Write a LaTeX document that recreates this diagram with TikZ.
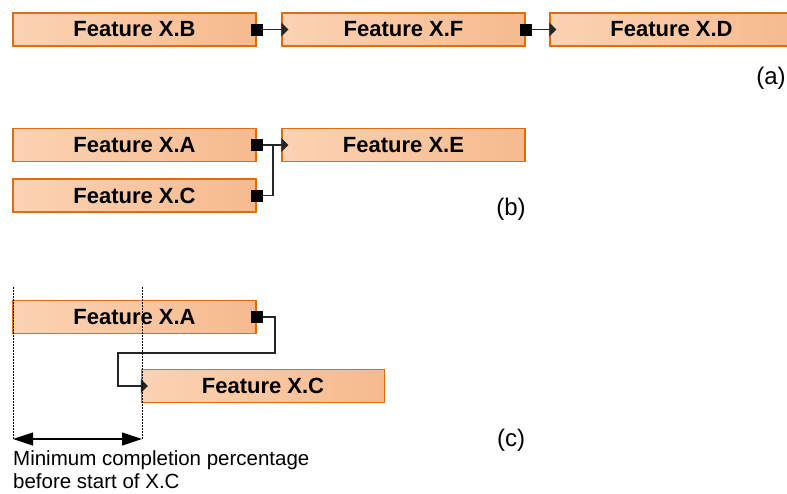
\documentclass[tikz,border=0pt]{standalone}
\usepackage{fontspec}
\setmainfont{Liberation Sans}
\usetikzlibrary{arrows.meta,calc}
\definecolor{boxborder}{HTML}{E36C0A}
\definecolor{boxlight}{HTML}{FBD3B3}
\definecolor{boxdark}{HTML}{F6BA8E}
\tikzset{
  featbox/.style={draw=boxborder, line width=1.4pt, left color=boxlight, right color=boxdark,
    minimum width=243pt, minimum height=33pt, inner sep=0pt,
    font=\fontsize{22}{26}\selectfont\bfseries},
  sqmark/.style={fill=black, minimum size=12pt, inner sep=0pt},
  conn/.style={draw=black!85, line width=1.3pt, arrows={-Triangle[length=7pt,width=14pt]}},
  plainconn/.style={draw=black!85, line width=1.3pt},
  guide/.style={draw=black, line width=1pt, dash pattern=on 1.5pt off 1.5pt},
  lbl/.style={font=\fontsize{24}{28}\selectfont},
  note/.style={font=\fontsize{20.5}{23}\selectfont, align=left, inner sep=0pt, anchor=north west}
}
\begin{document}
\begin{tikzpicture}[x=1pt,y=-1pt]
\useasboundingbox (0,0) rectangle (787,493);
% (a)
\node[featbox] (aB) at (134.5,29.5) {Feature X.B};
\node[featbox] (aF) at (403.5,29.5) {Feature X.F};
\node[featbox] (aD) at (671.5,29.5) {Feature X.D};
\node[sqmark] (sB) at (aB.east) {};
\node[sqmark] (sF) at (aF.east) {};
\draw[conn] (sB) -- ([xshift=7pt]aF.west);
\draw[conn] (sF) -- ([xshift=7pt]aD.west);
\node[lbl] (la) at (771,78) {(a)};
% (b)
\node[featbox] (bA) at (134.5,145) {Feature X.A};
\node[featbox] (bC) at (134.5,195.5) {Feature X.C};
\node[featbox] (bE) at (403.5,145) {Feature X.E};
\node[sqmark] (sbA) at (bA.east) {};
\node[sqmark] (sbC) at (bC.east) {};
\draw[conn] (sbA) -- ([xshift=7pt]bE.west);
\draw[plainconn] (sbC.east) -| ($(sbA.east)!0.55!(bE.west)$);
\node[lbl] (lb) at (511,209) {(b)};
% (c)
\node[featbox] (cA) at (134.5,317) {Feature X.A};
\node[featbox] (cC) at (263,386) {Feature X.C};
\node[sqmark] (scA) at (cA.east) {};
\coordinate (t1) at (275,317);
\coordinate (t2) at (275,353);
\coordinate (t3) at (118,353);
\coordinate (t4) at (118,386);
\draw[conn] (scA.east) -- (t1) -- (t2) -- (t3) -- (t4) -- ([xshift=7pt]cC.west);
\coordinate (g1t) at (13,287);
\coordinate (g1b) at (13,440);
\coordinate (g2t) at (142,287);
\coordinate (g2b) at (142,440);
\draw[guide] (g1t) -- (g1b);
\draw[guide] (g2t) -- (g2b);
\coordinate (d1) at (13,439);
\coordinate (d2) at (142,439);
\draw[line width=1.2pt, {Triangle[length=20pt,width=13pt]}-{Triangle[length=20pt,width=13pt]}] (d1) -- (d2);
\node[note] (nt) at (13,450) {Minimum completion percentage\\before start of X.C};
\node[lbl] (lc) at (511,440) {(c)};
\end{tikzpicture}
\end{document}
